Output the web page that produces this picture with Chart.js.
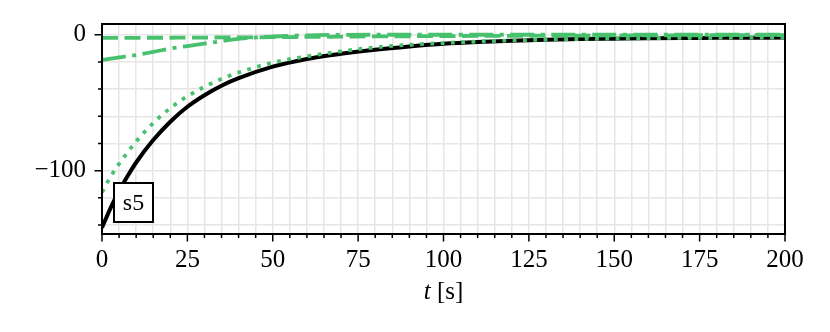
<!DOCTYPE html>
<html><head><meta charset="utf-8">
<script src="https://cdn.jsdelivr.net/npm/chart.js@4/dist/chart.umd.min.js"></script>
<style>html,body{margin:0;padding:0;background:#fff}#wrap{width:830px;height:332px;position:relative}</style>
</head><body><div id="wrap"><canvas id="c" width="830" height="332"></canvas></div>
<script>
// ---- data ----
const time      = [0,2.5,5,7.5,10,15,20,25,30,35,40,50,60,70,80,90,100,110,120,130,140,150,160,170,180,190,200];
const s5Ref     = [-142,-127.5,-115,-104,-94,-77.5,-64,-53,-44.5,-37.5,-32,-23.5,-17.8,-14,-11,-8.6,-6.6,-5.3,-4.4,-3.7,-3.2,-2.9,-2.6,-2.4,-2.3,-2.2,-2.1];
const s5Dotted  = [-116,-104.5,-95,-86.5,-78.5,-65,-54,-45.3,-38.3,-32.5,-27.8,-20.5,-15.9,-12.2,-9.3,-7.4,-6.1,-5,-4.2,-3.6,-3.1,-2.8,-2.5,-2.3,-2.2,-2.1,-2];
const s5DashDot = [-18.5,-17.6,-16.7,-15.8,-15,-12.6,-10.2,-8.3,-6.5,-4.7,-3.0,-1.3,-0.4,-0.1,0,0,0,0,0,0,0,0,0,0,0,0,0];
const s5Dashed  = [-2.3,-2.3,-2.3,-2.3,-2.3,-2.2,-2.2,-2.1,-2.1,-2,-2,-1.8,-1.6,-1.4,-1.2,-1.1,-1,-0.9,-0.8,-0.7,-0.6,-0.5,-0.45,-0.4,-0.35,-0.3,-0.3];
const xMajorTicks = [0,25,50,75,100,125,150,175,200];
const xMinorStep  = 5;
const yMajorTicks = [0,-100];
const yMinorTicks = [0,-20,-40,-60,-80,-100,-120,-140];
const yTickLabels = {'0':'0','-100':'\u2212100'};
const boxLabel = 's5';
const xTitleVar = 't';
const xTitleUnit = ' [s]';

const GREEN = '#48c16e';
const FONT = '"Liberation Serif", "DejaVu Serif", serif';

const xMinor = [];
for (let v = 0; v <= 200; v += xMinorStep) xMinor.push(v);

function pts(ys){ return time.map((t,i)=>({x:t,y:ys[i]})); }

const decor = {
  id:'decor',
  afterDatasetsDraw(chart){
    const {ctx, chartArea:a, scales:{x,y}} = chart;
    ctx.save();
    // annotation box
    const bx = a.left + 12, bs = 39, by = a.bottom - 12 - bs;
    ctx.fillStyle = '#fff';
    ctx.fillRect(bx, by, bs, bs);
    ctx.strokeStyle = '#000'; ctx.lineWidth = 2;
    ctx.strokeRect(bx, by, bs, bs);
    ctx.fillStyle = '#000';
    ctx.font = '24px ' + FONT;
    ctx.textAlign = 'center'; ctx.textBaseline = 'middle';
    ctx.fillText(boxLabel, bx + bs/2, by + bs/2 + 1);
    // frame
    ctx.lineWidth = 2;
    ctx.strokeRect(a.left, a.top, a.right - a.left, a.bottom - a.top);
    // ticks
    ctx.lineWidth = 1.5;
    ctx.beginPath();
    xMinor.forEach(v=>{
      const px = x.getPixelForValue(v);
      const len = xMajorTicks.includes(v) ? 7.5 : 4;
      ctx.moveTo(px, a.bottom); ctx.lineTo(px, a.bottom + len);
    });
    yMinorTicks.forEach(v=>{
      const py = y.getPixelForValue(v);
      const len = yMajorTicks.includes(v) ? 7.5 : 4;
      ctx.moveTo(a.left, py); ctx.lineTo(a.left - len, py);
    });
    ctx.stroke();
    // x axis title: italic t + [s]
    ctx.textBaseline = 'middle'; ctx.textAlign = 'left';
    ctx.font = 'italic 25px ' + FONT;
    const w1 = ctx.measureText(xTitleVar).width;
    ctx.font = '25px ' + FONT;
    const w2 = ctx.measureText(xTitleUnit).width;
    const cx = (a.left + a.right)/2;
    let sx = cx - (w1 + w2)/2;
    ctx.font = 'italic 25px ' + FONT;
    ctx.fillText(xTitleVar, sx, 292);
    ctx.font = '25px ' + FONT;
    ctx.fillText(xTitleUnit, sx + w1, 292);
    ctx.restore();
  }
};

new Chart(document.getElementById('c'), {
  type:'line',
  data:{datasets:[
    {data:pts(s5Ref), borderColor:'#000', borderWidth:4, pointRadius:0, cubicInterpolationMode:'monotone', order:4},
    {data:pts(s5Dotted), borderColor:GREEN, borderWidth:3.8, borderDash:[3.8,6.5], borderCapStyle:'butt', pointRadius:0, cubicInterpolationMode:'monotone', order:3},
    {data:pts(s5DashDot), borderColor:GREEN, borderWidth:3.8, borderDash:[24,6.5,4,6.5], borderCapStyle:'butt', pointRadius:0, cubicInterpolationMode:'monotone', order:2},
    {data:pts(s5Dashed), borderColor:GREEN, borderWidth:3.8, borderDash:[16,6.5], borderCapStyle:'butt', pointRadius:0, cubicInterpolationMode:'monotone', order:1}
  ]},
  options:{
    responsive:false, animation:false, devicePixelRatio:1,
    layout:{padding:{left:0,right:45,top:24,bottom:0}},
    plugins:{legend:{display:false}, tooltip:{enabled:false}},
    scales:{
      x:{type:'linear', min:0, max:200,
        afterBuildTicks:s=>{s.ticks = xMinor.map(v=>({value:v}));},
        afterFit:s=>{s.height = 98; s.paddingLeft = 0; s.paddingRight = 0;},
        grid:{color:'#e6e6e6', lineWidth:1.5, drawTicks:false},
        border:{display:false},
        ticks:{autoSkip:false, maxRotation:0, padding:11, color:'#000', font:{family:FONT, size:25},
          callback:v=> xMajorTicks.includes(v) ? String(v) : ''}
      },
      y:{type:'linear', min:-146.6, max:7.9,
        afterBuildTicks:s=>{s.ticks = yMinorTicks.map(v=>({value:v}));},
        afterFit:s=>{s.width = 102; s.paddingTop = 0; s.paddingBottom = 0;},
        grid:{color:'#e6e6e6', lineWidth:1.5, drawTicks:false},
        border:{display:false},
        ticks:{autoSkip:false, padding:16, color:'#000', font:{family:FONT, size:25},
          callback:v=> (yTickLabels[String(v)] !== undefined ? yTickLabels[String(v)] : '')}
      }
    }
  },
  plugins:[decor]
});
</script>
</body></html>
